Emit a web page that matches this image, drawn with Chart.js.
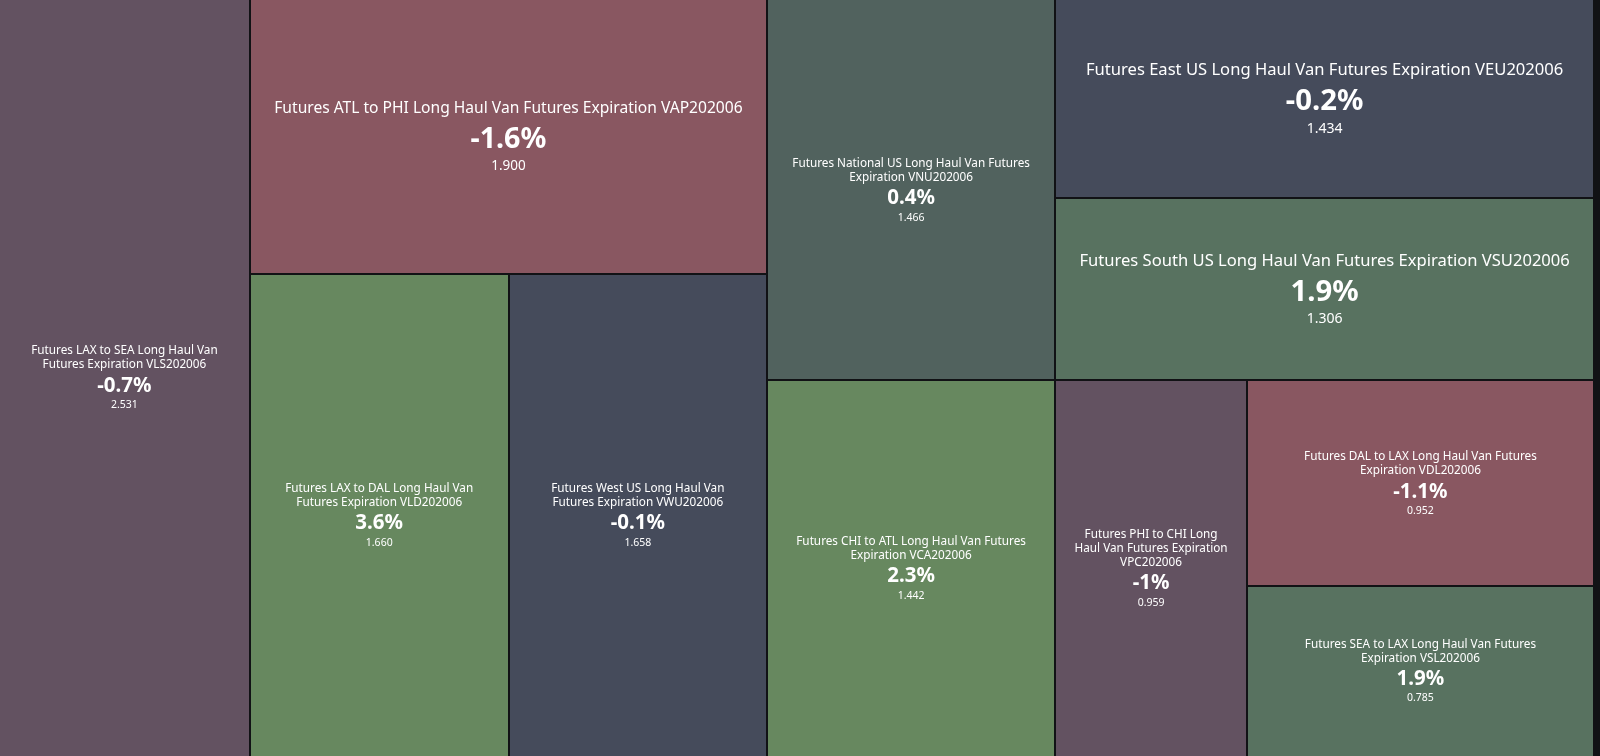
<!DOCTYPE html>
<html>
<head>
<meta charset="utf-8">
<script src="https://cdn.jsdelivr.net/npm/chart.js@4/dist/chart.umd.min.js"></script>
<style>
  html, body { margin: 0; padding: 0; background: #111215; overflow: hidden; }
  #wrap { width: 1595px; height: 756px; }
</style>
</head>
<body>
<div id="wrap"><canvas id="treemap"></canvas></div>
<script>
// ------------------------------
// Data: one entry per futures contract
// ------------------------------
const names = [
  'Futures LAX to SEA Long Haul Van Futures Expiration VLS202006',
  'Futures ATL to PHI Long Haul Van Futures Expiration VAP202006',
  'Futures LAX to DAL Long Haul Van Futures Expiration VLD202006',
  'Futures West US Long Haul Van Futures Expiration VWU202006',
  'Futures National US Long Haul Van Futures Expiration VNU202006',
  'Futures CHI to ATL Long Haul Van Futures Expiration VCA202006',
  'Futures East US Long Haul Van Futures Expiration VEU202006',
  'Futures South US Long Haul Van Futures Expiration VSU202006',
  'Futures PHI to CHI Long Haul Van Futures Expiration VPC202006',
  'Futures DAL to LAX Long Haul Van Futures Expiration VDL202006',
  'Futures SEA to LAX Long Haul Van Futures Expiration VSL202006'
];
const prices = [2.531, 1.900, 1.660, 1.658, 1.466, 1.442, 1.434, 1.306, 0.959, 0.952, 0.785];
const changes = [-0.7, -1.6, 3.6, -0.1, 0.4, 2.3, -0.2, 1.9, -1, -1.1, 1.9];

// nesting of the cells (indices into the arrays above)
const groups = [0, [1, [2, 3]], [4, 5], [6, 7, [8, [9, 10]]]];

// colour bins by % change
const binLimits = [-1, -0.5, 0, 1, 2];
const binColors = ['#895761', '#635261', '#454b5b', '#51625e', '#587260', '#67885f'];

function colorFor(change) {
  let i = 0;
  while (i < binLimits.length && change >= binLimits[i]) i++;
  return binColors[i];
}

function groupSum(node) {
  return Array.isArray(node) ? node.reduce((s, n) => s + groupSum(n), 0) : prices[node];
}

// ------------------------------
// Slice layout in scale units, split along the longer pixel side
// ------------------------------
function layout(node, x0, y0, x1, y1, xs, ys, out) {
  if (!Array.isArray(node)) {
    out.push({ i: node, x0, y0, x1, y1 });
    return;
  }
  const pw = Math.abs(xs.getPixelForValue(x1) - xs.getPixelForValue(x0));
  const ph = Math.abs(ys.getPixelForValue(y1) - ys.getPixelForValue(y0));
  const total = groupSum(node);
  let pos = pw >= ph ? x0 : y0;
  node.forEach(child => {
    const frac = groupSum(child) / total;
    if (pw >= ph) {
      const next = pos + (x1 - x0) * frac;
      layout(child, pos, y0, next, y1, xs, ys, out);
      pos = next;
    } else {
      const next = pos + (y1 - y0) * frac;
      layout(child, x0, pos, x1, next, xs, ys, out);
      pos = next;
    }
  });
}

function wrapWords(ctx, text, maxWidth) {
  const words = text.split(' ');
  const lines = [];
  let line = '';
  words.forEach(w => {
    const test = line ? line + ' ' + w : w;
    if (ctx.measureText(test).width > maxWidth && line) {
      lines.push(line);
      line = w;
    } else {
      line = test;
    }
  });
  if (line) lines.push(line);
  return lines;
}

const FONT = '"Noto Sans", "Open Sans", sans-serif';

const treemapPlugin = {
  id: 'treemapCells',
  afterDatasetsDraw(chart) {
    const ctx = chart.ctx;
    const xs = chart.scales.x, ys = chart.scales.y;
    const cells = [];
    layout(groups, xs.min, ys.min, xs.max, ys.max, xs, ys, cells);

    ctx.save();
    cells.forEach(c => {
      const left = xs.getPixelForValue(c.x0);
      const right = xs.getPixelForValue(c.x1);
      const top = ys.getPixelForValue(c.y0);
      const bottom = ys.getPixelForValue(c.y1);
      // leave a thin dark gap on inner edges
      const gapR = 2;
      const gapB = c.y1 < ys.max - 1e-9 ? 2 : 0;
      const w = right - left, h = bottom - top;
      ctx.fillStyle = colorFor(changes[c.i]);
      ctx.fillRect(Math.round(left), Math.round(top), Math.round(right) - Math.round(left) - gapR, Math.round(bottom) - Math.round(top) - gapB);

      // labels: wide cells get text that grows with the cell width
      const big = w > 420;
      const k = w / 517;
      const tSize = big ? 15.6 * Math.pow(k, 1.5) : 11.75;
      const pSize = big ? 28.7 * Math.pow(k, 0.5) : 20.5;
      const vSize = big ? 13.5 * k : 10.5;
      const lh = big ? 20 : 14;
      const d1 = big ? 31 : 21;
      const d2 = big ? 27 : 19;
      ctx.font = tSize + 'px ' + FONT;
      const lines = wrapWords(ctx, names[c.i], big ? w - 30 : w * 0.825);
      const span = (lines.length - 1) * lh + d1 + d2;
      const cx = left + w / 2 - 1;
      let y = top + h / 2 - span / 2;
      ctx.fillStyle = '#ffffff';
      ctx.textAlign = 'center';
      ctx.textBaseline = 'middle';
      lines.forEach((ln, n) => {
        ctx.fillText(ln, cx, y + n * lh);
      });
      y += (lines.length - 1) * lh + d1;
      ctx.font = 'bold ' + pSize + 'px ' + FONT;
      ctx.fillText(changes[c.i] + '%', cx, y);
      y += d2;
      ctx.font = vSize + 'px ' + FONT;
      ctx.fillText(prices[c.i].toFixed(3), cx, y);
    });
    ctx.restore();
  }
};

const totalValue = groupSum(groups);

new Chart(document.getElementById('treemap'), {
  type: 'scatter',
  data: { datasets: [{ data: [], pointRadius: 0 }] },
  options: {
    responsive: true,
    maintainAspectRatio: false,
    animation: false,
    layout: { padding: 0 },
    plugins: { legend: { display: false }, tooltip: { enabled: false } },
    scales: {
      x: { type: 'linear', min: 0, max: totalValue, display: false },
      y: { type: 'linear', min: 0, max: 1, reverse: true, display: false }
    }
  },
  plugins: [treemapPlugin]
});
</script>
</body>
</html>
